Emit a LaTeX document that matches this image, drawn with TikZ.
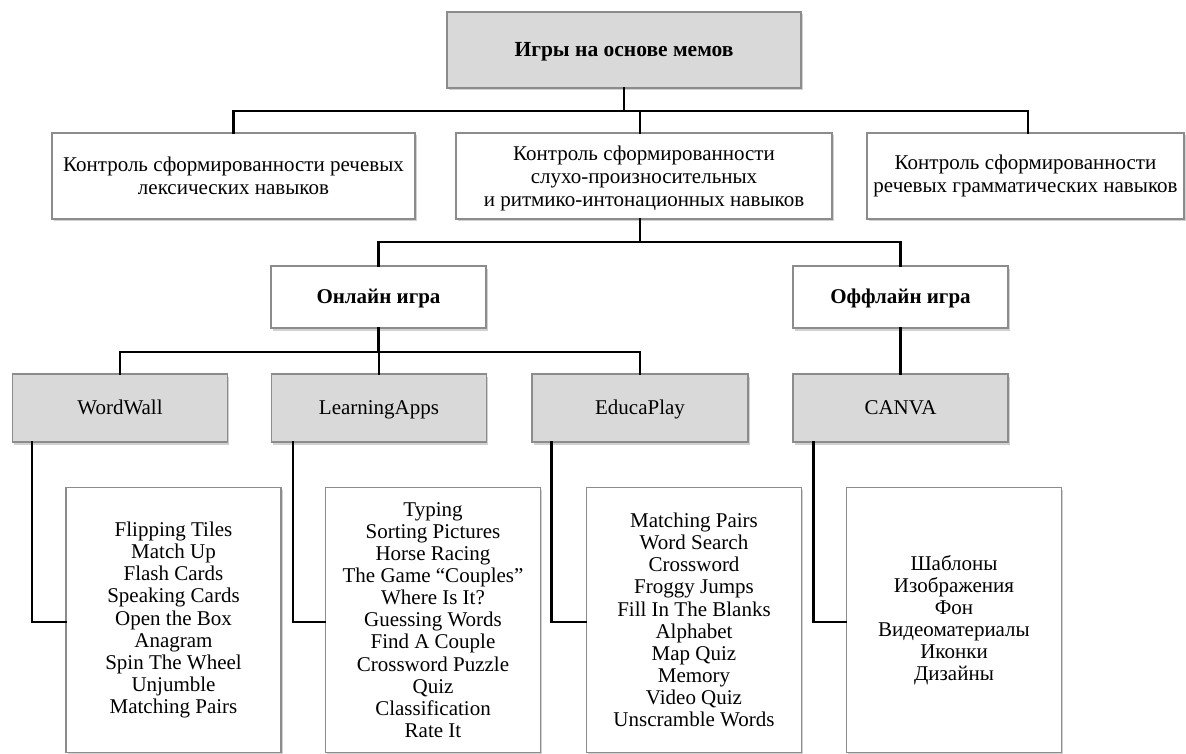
\documentclass[tikz,border=0pt]{standalone}
\usepackage{fontspec}
\setmainfont{Liberation Serif}
\usetikzlibrary{shadows}
\begin{document}
\begin{tikzpicture}[x=1pt,y=-1pt,
  box/.style={draw=black!45, line width=1.1pt, fill=white, inner sep=0pt, align=center,
    font=\fontsize{21}{22.8}\selectfont,
    drop shadow={shadow xshift=1.5pt, shadow yshift=-2.5pt, opacity=0.3, fill=black!60}},
  gbox/.style={box, fill=black!15},
  oneline/.style={text height=16pt, text depth=2.5pt},
  conn/.style={line width=2.7pt, black, line cap=rect}
]
\useasboundingbox (0,0) rectangle (1186,754);

% level 1
\node[gbox, oneline, minimum width=354pt, minimum height=76pt, font=\fontsize{21.5}{23}\selectfont\bfseries] (top) at (624,50) {Игры на основе мемов};

% level 2
\node[box, minimum width=363pt, minimum height=86pt] (l2a) at (233.5,176) {Контроль сформированности речевых\\лексических навыков};
\node[box, minimum width=376pt, minimum height=86pt] (l2b) at (644,176) {\rule{0pt}{19pt}Контроль сформированности\\слухо-произносительных\\и ритмико-интонационных навыков};
\node[box, minimum width=317pt, minimum height=86pt] (l2c) at (1025.5,176) {Контроль сформированности\\речевых грамматических навыков};

% level 3
\node[box, oneline, minimum width=215pt, minimum height=62pt, font=\fontsize{21}{22.6}\selectfont\bfseries] (on) at (378.5,297) {Онлайн игра};
\node[box, oneline, minimum width=215pt, minimum height=62pt, font=\fontsize{21}{22.6}\selectfont\bfseries] (off) at (900.5,297) {Оффлайн игра};

% level 4
\node[gbox, oneline, minimum width=215pt, minimum height=68pt] (ww) at (120,408) {WordWall};
\node[gbox, oneline, minimum width=215pt, minimum height=68pt] (la) at (379,408) {LearningApps};
\node[gbox, oneline, minimum width=216pt, minimum height=68pt] (ep) at (640,408) {EducaPlay};
\node[gbox, oneline, minimum width=215pt, minimum height=68pt] (cv) at (900.5,408) {CANVA};

% lists
\tikzset{lst/.style={box, minimum width=215pt, minimum height=265pt, font=\fontsize{21}{22.1}\selectfont}}
\node[lst] (lww) at (173.5,620) {Flipping Tiles\\Match Up\\Flash Cards\\Speaking Cards\\Open the Box\\Anagram\\Spin The Wheel\\Unjumble\\Matching Pairs};
\node[lst] (lla) at (433,620) {Typing\\Sorting Pictures\\Horse Racing\\The Game “Couples”\\Where Is It?\\Guessing Words\\Find A Couple\\Crossword Puzzle\\Quiz\\Classification\\Rate It};
\node[lst] (lep) at (694,620) {Matching Pairs\\Word Search\\Crossword\\Froggy Jumps\\Fill In The Blanks\\Alphabet\\Map Quiz\\Memory\\Video Quiz\\Unscramble Words};
\node[lst] (lcv) at (954,620) {Шаблоны\\Изображения\\Фон\\Видеоматериалы\\Иконки\\Дизайны};

% buses
\coordinate (b1) at (0,111);
\coordinate (b2) at (0,242);
\coordinate (b3) at (0,352);
\coordinate (b4) at (0,622);

\draw[conn] (top.south) -- (top.south |- b1);
\draw[conn] (l2a.north) -- (l2a.north |- b1) -- ([xshift=2.5pt]l2c.north |- b1) -- ([xshift=2.5pt]l2c.north);
\draw[conn] ([xshift=-4pt]l2b.north) -- ([xshift=-4pt]l2b.north |- b1);

\draw[conn] ([xshift=-4pt]l2b.south) -- ([xshift=-4pt]l2b.south |- b2);
\draw[conn] (on.north) -- (on.north |- b2) -- (off.north |- b2) -- (off.north);

\draw[conn] (on.south) -- (on.south |- b3);
\draw[conn] (ww.north) -- (ww.north |- b3) -- (ep.north |- b3) -- (ep.north);
\draw[conn] (la.north) -- (la.north |- b3);
\draw[conn] (off.south) -- (cv.north);

\draw[conn] ([xshift=20pt]ww.south west) -- ([xshift=20pt]ww.south west |- b4) -- (lww.west |- b4);
\draw[conn] ([xshift=22pt]la.south west) -- ([xshift=22pt]la.south west |- b4) -- (lla.west |- b4);
\draw[conn] ([xshift=20pt]ep.south west) -- ([xshift=20pt]ep.south west |- b4) -- (lep.west |- b4);
\draw[conn] ([xshift=21pt]cv.south west) -- ([xshift=21pt]cv.south west |- b4) -- (lcv.west |- b4);
\end{tikzpicture}
\end{document}
